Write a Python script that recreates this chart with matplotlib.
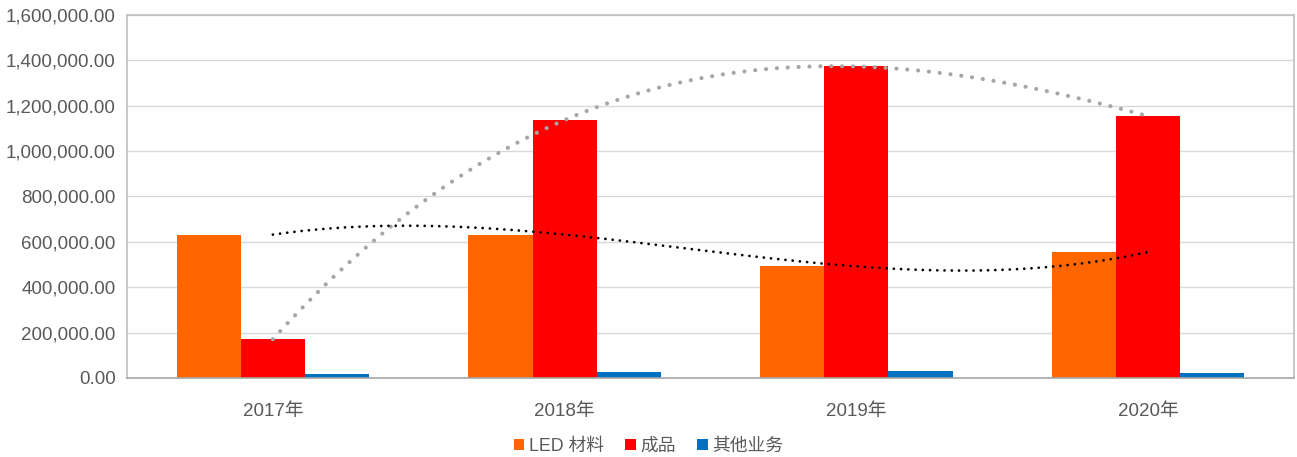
import numpy as np
import matplotlib.pyplot as plt

plt.rcParams['font.family'] = ['Liberation Sans', 'Noto Sans CJK SC', 'DejaVu Sans']

years = ['2017年', '2018年', '2019年', '2020年']
led = [632000, 632000, 492000, 555000]
product = [171000, 1137000, 1373000, 1154000]
other = [17000, 27000, 31000, 20000]

fig = plt.figure(figsize=(12.97, 4.57), dpi=100)
ax = fig.add_axes([0.0979, 0.1729, 0.8998, 0.7943])

x = np.arange(len(years))
w = 0.22
ax.bar(x - w, led, w, color='#FF6600', label='LED 材料', zorder=2)
ax.bar(x, product, w, color='#FF0000', label='成品', zorder=2)
ax.bar(x + w, other, w, color='#0070C0', label='其他业务', zorder=2)

# polynomial trend lines (order 3), like the spreadsheet's
xs = np.linspace(0, 3, 300)
p_prod = np.polyfit(x, product, 3)
p_led = np.polyfit(x, led, 3)
ax.plot(xs, np.polyval(p_prod, xs), color='#A6A6A6', lw=3.0,
        linestyle=(0, (0.01, 2.6)), dash_capstyle='round', zorder=3)
ax.plot(xs, np.polyval(p_led, xs), color='black', lw=2.0,
        linestyle=(0, (0.01, 2.6)), dash_capstyle='round', zorder=3)

ax.set_xlim(-0.5, 3.5)
ax.set_ylim(0, 1600000)
ax.set_yticks(np.arange(0, 1600001, 200000))
ax.set_yticklabels([f'{v:,.2f}' for v in np.arange(0, 1600001, 200000)])
ax.set_xticks(x)
ax.set_xticklabels(years)
ax.tick_params(axis='both', length=0, labelsize=13.5, colors='#595959')
ax.tick_params(axis='x', pad=18)
ax.tick_params(axis='y', pad=8)
ax.grid(axis='y', color='#D9D9D9', lw=1, zorder=0)
for s in ax.spines.values():
    s.set_color('#BFBFBF')
    s.set_linewidth(1.2)
ax.spines['bottom'].set_color('#A6A6A6')

leg = fig.legend(loc='center', bbox_to_anchor=(0.5, 0.024), ncol=3, frameon=False,
                 fontsize=12.8, handlelength=0.6, handleheight=0.6,
                 handletextpad=0.25, columnspacing=1.2)
for t in leg.get_texts():
    t.set_color('#595959')

fig.savefig('out.png', dpi=100)
